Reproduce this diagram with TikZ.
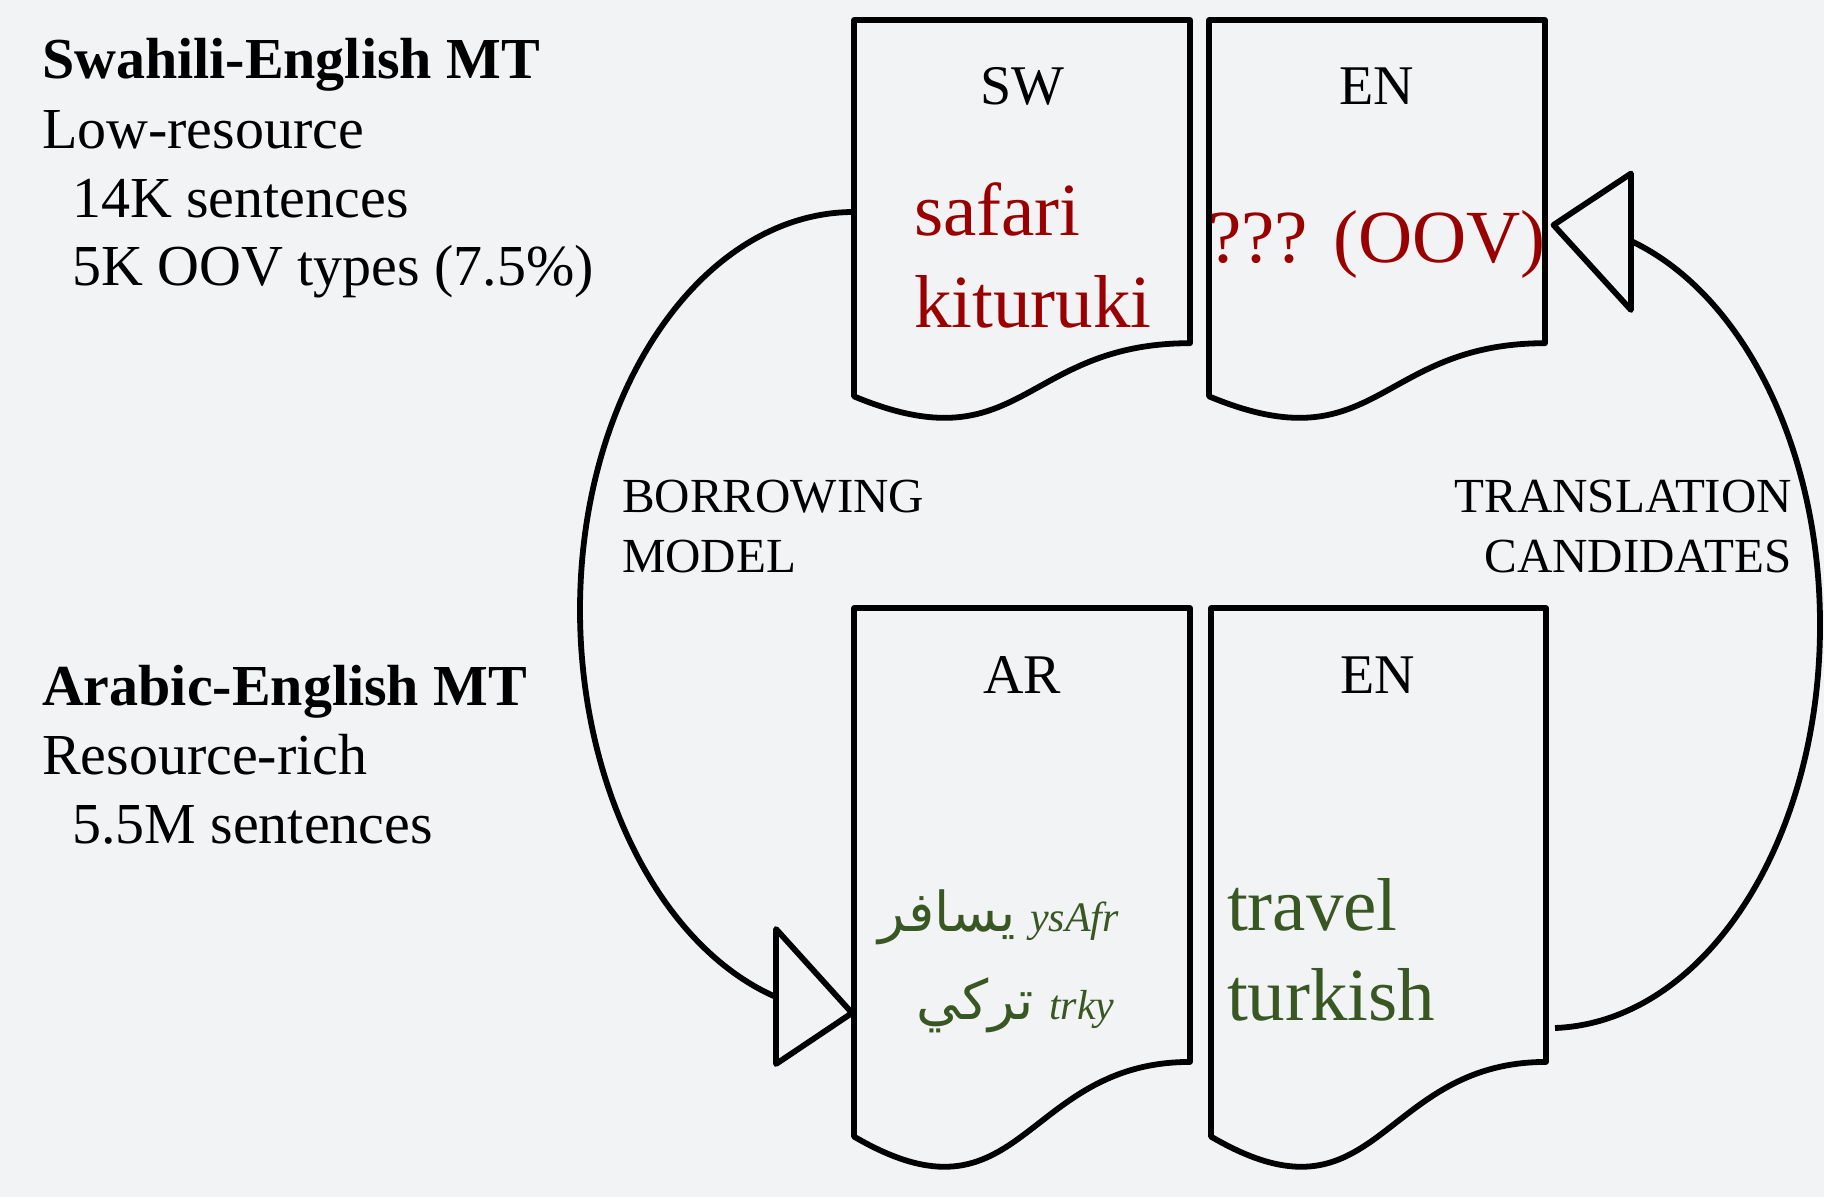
\documentclass[tikz,border=0pt]{standalone}
\usepackage{fontspec}
\setmainfont{Liberation Serif}
\newfontfamily\arabicfont[Script=Arabic]{DejaVu Sans}
\TeXXeTstate=1
\definecolor{bg}{RGB}{242,243,245}
\definecolor{oovred}{RGB}{153,0,0}
\definecolor{argreen}{RGB}{56,87,35}
\tikzset{
  docline/.style={line width=2.9pt, draw=black, fill=bg, line join=round},
  flow/.style={line width=2.9pt, draw=black},
  tri/.style={line width=2.9pt, draw=black, fill=bg, line join=round},
  txt/.style={inner sep=0pt, outer sep=0pt},
  sidetxt/.style={txt, anchor=base west, font=\fontsize{29}{35}\selectfont},
  sidehead/.style={sidetxt, font=\fontsize{29}{35}\selectfont\bfseries},
  doclabel/.style={txt, anchor=base, font=\fontsize{28}{34}\selectfont},
  bigword/.style={txt, font=\fontsize{37.5}{45}\selectfont},
  flowlabel/.style={txt, font=\fontsize{24.5}{30}\selectfont},
  translit/.style={txt, anchor=base west, text=argreen, font=\fontsize{21}{25}\selectfont\itshape},
  arword/.style={txt, anchor=base east, text=argreen, font=\fontsize{27.5}{33}\arabicfont},
}
% #1 name, #2 x, #3 y (top), #4 width, #5 height parameter
\newcommand\DocShape[5]{%
  \draw[docline] (#2,#3) -- ({#2+#4},#3) -- ({#2+#4},{#3+0.802*#5})
    .. controls ({#2+0.5*#4},{#3+0.802*#5}) and ({#2+0.5*#4},{#3+1.1074*#5}) .. (#2,{#3+0.9339*#5}) -- cycle;
  \coordinate (#1) at ({#2+0.5*#4},{#3+0.5*#5});
}
\begin{document}
\begin{tikzpicture}[x=0.5pt, y=-0.5pt]
\fill[bg] (0,0) rectangle (1824,1197);
\useasboundingbox (0,0) rectangle (1824,1197);

% documents
\DocShape{sw}{854}{20}{336}{403}
\DocShape{entop}{1209}{20}{336}{403}
\DocShape{ar}{854}{608}{336}{566}
\DocShape{enbot}{1211}{608}{335}{566}

% connector end points
\coordinate (bmStart) at (854,212);
\coordinate (bmEnd) at (776,997);
\coordinate (tcStart) at (1555,1028);
\coordinate (tcEnd) at (1631,241);

% borrowing model curve
\draw[flow] (bmStart) .. controls (702.7,212) and (580,390.2) .. (580,610)
  .. controls (580,785.5) and (659.4,946.3) .. (bmEnd);
% translation candidates curve
\draw[flow] (tcStart) .. controls (1703.7,1022.2) and (1820,843.5) .. (1820,625)
  .. controls (1820,449.3) and (1743.4,294.1) .. (tcEnd);

% open triangle heads
\draw[tri] (776,929) -- (852,1013) -- (776,1064) -- cycle;
\draw[tri] (1631,173.5) -- (1553.5,225) -- (1631,310) -- cycle;

% left descriptions
\node[sidehead] (swhead) at (42,79) {Swahili-English MT};
\node[sidetxt] (swres) at (42,149) {Low-resource};
\node[sidetxt] (swsent) at (72,217.5) {14K sentences};
\node[sidetxt] (swoov) at (72,286) {5K OOV types (7.5\%)};
\node[sidehead] (arhead) at (42,705) {Arabic-English MT};
\node[sidetxt] (arres) at (42,774) {Resource-rich};
\node[sidetxt] (arsent) at (72,843) {5.5M sentences};

% document labels
\node[doclabel] (swlab) at (1022,105) {SW};
\node[doclabel] (enlab1) at (1377,105) {EN};
\node[doclabel] (arlab) at (1022,693) {AR};
\node[doclabel] (enlab2) at (1378,693) {EN};

% words
\node[bigword, anchor=base west, text=oovred] (w1) at (914,236) {safari};
\node[bigword, anchor=base west, text=oovred] (w2) at (914,328) {kituruki};
\node[bigword, anchor=base, text=oovred] (w3) at (1377,263) {??? (OOV)};
\node[bigword, anchor=base west, text=argreen] (w4) at (1227,930) {travel};
\node[bigword, anchor=base west, text=argreen] (w5) at (1227,1020) {turkish};

\node[arword] (a1) at (1016,931) {\beginR يسافر\endR};
\node[translit] (a1t) at (1030,931) {ysAfr};
\node[arword] (a2) at (1034,1019) {\beginR تركي\endR};
\node[translit] (a2t) at (1049,1019) {trky};

% flow labels
\node[flowlabel, anchor=base west] (bm1) at (622,512) {BORROWING};
\node[flowlabel, anchor=base west] (bm2) at (622,572) {MODEL};
\node[flowlabel, anchor=base east] (tc1) at (1792,512) {TRANSLATION};
\node[flowlabel, anchor=base east] (tc2) at (1792,572) {CANDIDATES};
\end{tikzpicture}
\end{document}
